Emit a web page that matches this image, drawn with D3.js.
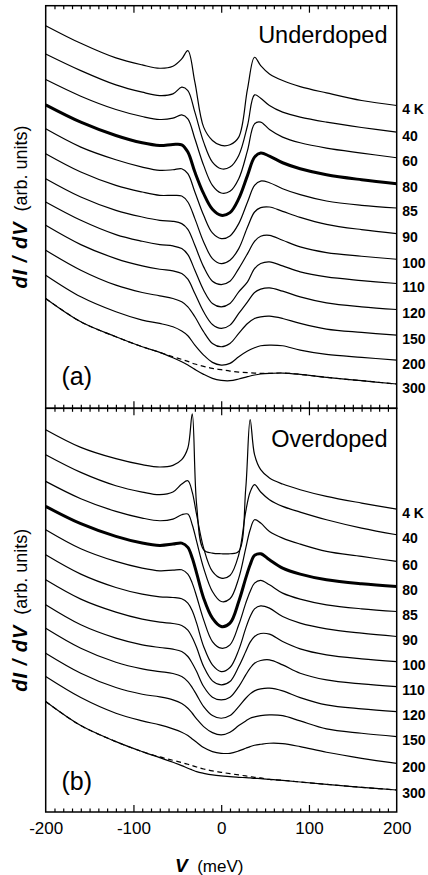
<!DOCTYPE html>
<html>
<head>
<meta charset="utf-8">
<script src="https://cdn.jsdelivr.net/npm/d3@7"></script>
<style>
  html, body { margin: 0; padding: 0; background: #fff; }
  svg { display: block; }
  text { font-family: "Liberation Sans", Arial, Helvetica, sans-serif; fill: #000; }
</style>
</head>
<body>
<div id="chart"></div>
<script>
// temperatures, top to bottom (label on the right)
var temps = ["4 K", "40", "60", "80", "85", "90", "100", "110", "120", "150", "200", "300"];
var thickIndex = 3;

// bias voltages (meV) sampled for each panel
var biasA = [-200, -160, -120, -90, -70, -55, -45, -38, -30, -20, -10, 0, 10, 20, 30, 38, 45, 55, 70, 90, 120, 160, 200];
var biasB = [-200, -160, -120, -90, -70, -55, -45, -38, -33, -28, -20, -10, 0, 10, 20, 28, 33, 38, 45, 55, 70, 90, 120, 160, 200];

// dI/dV (arb. units, offset), underdoped
var underdoped = [
  [115.0, 109.7, 105.3, 103.2, 102.2, 102.8, 105.0, 107.5, 98.0, 84.5, 80.5, 79.0, 79.2, 81.5, 96.0, 105.5, 103.0, 100.5, 98.5, 96.7, 94.8, 92.5, 91.0],
  [106.5, 101.5, 97.2, 95.0, 94.0, 94.5, 96.5, 95.5, 89.0, 80.0, 74.0, 72.0, 72.5, 76.0, 85.0, 94.2, 93.2, 91.0, 89.0, 87.5, 86.0, 84.4, 83.0],
  [98.8, 93.8, 89.8, 87.7, 86.8, 87.2, 88.2, 87.0, 81.0, 73.0, 67.0, 64.7, 65.2, 69.0, 77.5, 85.5, 86.0, 83.8, 81.5, 79.8, 78.2, 76.7, 75.3],
  [91.2, 86.0, 82.0, 79.8, 79.0, 79.3, 79.2, 77.0, 71.0, 64.5, 59.8, 58.0, 58.8, 63.0, 70.0, 75.5, 76.7, 75.8, 73.8, 72.0, 70.2, 68.7, 67.5],
  [84.0, 78.5, 74.7, 72.5, 71.5, 71.7, 72.0, 70.5, 65.0, 58.0, 52.7, 51.0, 51.8, 55.5, 62.0, 67.0, 68.3, 67.8, 66.0, 64.2, 62.3, 61.0, 60.2],
  [76.5, 71.0, 67.0, 65.0, 64.0, 64.0, 63.8, 62.0, 57.0, 50.0, 45.0, 43.5, 44.5, 48.0, 54.5, 59.0, 60.3, 60.5, 59.2, 57.4, 55.3, 53.7, 52.5],
  [69.0, 63.5, 59.5, 57.5, 56.5, 56.2, 55.5, 53.8, 49.0, 42.5, 38.2, 37.2, 38.2, 42.0, 46.5, 50.2, 51.7, 52.0, 50.5, 48.5, 46.8, 45.7, 44.8],
  [62.0, 56.5, 52.2, 50.2, 49.2, 48.8, 48.0, 46.2, 41.5, 35.5, 31.5, 30.5, 31.5, 35.0, 38.0, 42.0, 43.5, 44.0, 42.8, 41.0, 39.5, 38.4, 37.5],
  [55.0, 49.2, 45.0, 42.8, 41.8, 41.3, 40.5, 38.8, 34.5, 29.0, 25.2, 24.0, 25.0, 28.5, 32.0, 34.8, 35.8, 36.2, 35.2, 33.5, 31.7, 30.5, 29.7],
  [47.5, 41.5, 37.0, 34.8, 33.8, 33.0, 32.0, 30.5, 27.5, 23.0, 19.5, 18.5, 19.5, 22.5, 25.5, 27.0, 27.5, 27.7, 27.0, 25.5, 23.8, 22.8, 22.0],
  [40.0, 33.5, 29.0, 26.5, 25.5, 24.5, 23.2, 21.8, 19.0, 16.0, 13.8, 13.0, 13.5, 15.5, 17.2, 18.2, 18.8, 19.0, 18.8, 17.5, 16.2, 15.3, 14.5],
  [33.0, 26.0, 21.5, 18.5, 16.8, 15.2, 14.0, 13.0, 11.7, 10.2, 9.0, 8.4, 8.3, 8.8, 9.5, 10.0, 10.3, 10.5, 10.6, 10.2, 9.3, 8.3, 7.3]
];
var underdopedDashed = [33.0, 26.0, 21.5, 18.5, 16.8, 15.5, 14.7, 14.1, 13.3, 12.6, 12.0, 11.6, 11.2, 10.9, 10.7, 10.6, 10.5, 10.5, 10.6, 10.2, 9.3, 8.3, 7.3];

// dI/dV (arb. units, offset), overdoped
var overdoped = [
  [114.6, 109.3, 105.9, 104.1, 103.4, 103.9, 105.6, 109.1, 119.3, 92.1, 78.6, 77.6, 77.4, 77.4, 78.1, 97.1, 117.6, 107.1, 102.6, 100.1, 98.3, 96.6, 94.6, 92.6, 90.8],
  [107.1, 101.8, 97.8, 95.9, 95.1, 95.9, 98.3, 99.3, 95.9, 89.1, 79.1, 72.1, 70.1, 70.9, 77.1, 90.1, 95.9, 98.1, 95.9, 93.6, 91.6, 89.9, 87.6, 85.1, 83.1],
  [99.1, 93.9, 90.1, 88.1, 87.3, 87.8, 89.1, 89.3, 86.1, 81.1, 73.1, 66.1, 63.1, 63.9, 70.1, 79.1, 84.6, 87.6, 86.6, 84.1, 82.1, 80.3, 78.1, 76.6, 75.1],
  [91.6, 86.4, 82.6, 80.6, 79.9, 80.3, 80.6, 79.3, 76.1, 71.6, 64.1, 58.1, 55.6, 56.6, 63.1, 70.1, 74.1, 76.9, 77.4, 75.6, 73.1, 71.3, 69.6, 68.4, 67.6],
  [84.6, 78.9, 75.1, 73.1, 72.3, 72.5, 72.6, 71.3, 68.6, 64.6, 57.6, 51.1, 49.1, 50.1, 56.1, 62.6, 66.1, 68.6, 69.4, 68.1, 65.6, 63.8, 62.1, 60.9, 60.1],
  [77.1, 71.3, 67.3, 65.3, 64.5, 64.3, 63.9, 62.6, 60.3, 56.6, 49.6, 44.1, 42.1, 43.3, 48.6, 55.1, 58.6, 60.9, 61.8, 61.1, 58.6, 56.6, 54.9, 53.6, 52.6],
  [69.6, 63.8, 59.9, 57.8, 56.9, 56.5, 55.9, 54.5, 52.3, 49.3, 43.6, 39.3, 38.1, 39.1, 43.6, 48.1, 50.9, 52.6, 53.5, 53.3, 51.1, 48.9, 47.1, 45.9, 45.1],
  [62.1, 56.1, 52.1, 50.1, 49.3, 48.8, 48.1, 46.6, 44.6, 42.1, 37.6, 34.4, 33.6, 34.4, 37.6, 41.1, 43.1, 44.6, 45.4, 45.6, 44.1, 41.6, 39.6, 38.4, 37.6],
  [55.1, 49.1, 44.9, 42.9, 42.1, 41.5, 40.6, 39.1, 37.3, 35.1, 31.6, 28.9, 28.1, 28.9, 31.6, 34.1, 35.4, 36.3, 36.9, 37.1, 36.3, 34.3, 32.1, 30.9, 30.1],
  [47.6, 41.6, 37.3, 35.3, 34.5, 33.6, 32.5, 31.1, 29.6, 27.9, 25.6, 23.8, 23.1, 23.9, 25.9, 27.3, 28.1, 28.5, 28.9, 29.1, 28.9, 27.3, 24.9, 23.6, 22.6],
  [40.6, 34.3, 29.6, 27.3, 26.1, 24.9, 23.9, 22.9, 21.9, 20.9, 19.3, 18.1, 17.6, 17.6, 18.3, 19.1, 19.6, 20.0, 20.3, 20.6, 20.5, 19.6, 17.9, 16.1, 14.6],
  [33.1, 25.9, 21.1, 18.1, 16.3, 14.9, 13.9, 13.1, 12.6, 12.1, 11.6, 11.1, 10.8, 10.6, 10.4, 10.3, 10.2, 10.1, 10.0, 9.8, 9.5, 9.0, 8.3, 7.4, 6.6]
];
var overdopedDashed = [33.1, 25.9, 21.1, 18.1, 16.5, 15.5, 14.8, 14.3, 13.9, 13.5, 12.9, 12.3, 11.9, 11.5, 11.1, 10.8, 10.6, 10.4, 10.2, 9.8, 9.5, 9.0, 8.3, 7.4, 6.6];

var xTicks = [-200, -100, 0, 100, 200];
var majorTicks = [-100, 0, 100];
var minorTicks = d3.range(-190, 200, 10).filter(function(d) { return d % 100 != 0; });

var width = 428, height = 875;
var left = 45.7, right = 396.7;
var panels = [
  {top: 5.7, bottom: 408.3, bias: biasA, curves: underdoped, dashed: underdopedDashed, name: "Underdoped", tag: "(a)"},
  {top: 408.3, bottom: 812, bias: biasB, curves: overdoped, dashed: overdopedDashed, name: "Overdoped", tag: "(b)"}
];

var svg = d3.select("#chart").append("svg")
  .attr("width", width)
  .attr("height", height);

var x = d3.scaleLinear().domain([-200, 200]).range([left, right]);

panels.forEach(function(p, k) {
  var y = d3.scaleLinear().domain([0, 121]).range([p.bottom, p.top]);
  var g = svg.append("g");

  var line = d3.line()
    .x(function(d) { return x(d[0]); })
    .y(function(d) { return y(d[1]); })
    .curve(d3.curveCatmullRom.alpha(0.5));

  // dashed reference under the 300 K curve
  g.append("path")
    .attr("d", line(d3.zip(p.bias, p.dashed)))
    .attr("fill", "none")
    .attr("stroke", "#000")
    .attr("stroke-width", 1.2)
    .attr("stroke-dasharray", "5,3.5");

  p.curves.forEach(function(c, i) {
    g.append("path")
      .attr("d", line(d3.zip(p.bias, c)))
      .attr("fill", "none")
      .attr("stroke", "#000")
      .attr("stroke-width", i == thickIndex ? 3 : 1.2)
      .attr("stroke-linejoin", "round");

    g.append("text")
      .attr("x", right + 5.5)
      .attr("y", y(c[c.length - 1]) + 8.5)
      .attr("font-size", 14)
      .attr("font-weight", "bold")
      .text(temps[i]);
  });

  // inward ticks, top and bottom of each panel
  [[p.top, d3.axisBottom], [p.bottom, d3.axisTop]].forEach(function(t) {
    var minor = g.append("g").attr("transform", "translate(0," + t[0] + ")")
      .call(t[1](x).tickValues(minorTicks).tickSize(3.5).tickFormat(""));
    var major = g.append("g").attr("transform", "translate(0," + t[0] + ")")
      .call(t[1](x).tickValues(majorTicks).tickSize(7).tickFormat(""));
    [minor, major].forEach(function(a) {
      a.select(".domain").remove();
      a.selectAll("line").attr("stroke", "#000").attr("stroke-width", 1.2);
    });
  });

  g.append("rect")
    .attr("x", left).attr("y", p.top)
    .attr("width", right - left).attr("height", p.bottom - p.top)
    .attr("fill", "none").attr("stroke", "#000").attr("stroke-width", 1.5);

  g.append("text")
    .attr("x", 387.5)
    .attr("y", p.top + (k == 0 ? 37.5 : 38.5))
    .attr("text-anchor", "end")
    .attr("font-size", 23.5)
    .text(p.name);

  g.append("text")
    .attr("x", 61.5)
    .attr("y", p.bottom - (k == 0 ? 23 : 22))
    .attr("font-size", 25)
    .text(p.tag);

  var yl = g.append("text")
    .attr("transform", "translate(26.5," + ((p.top + p.bottom) / 2) + ") rotate(-90)")
    .attr("text-anchor", "middle")
    .attr("xml:space", "preserve");
  yl.append("tspan").attr("font-size", 20).attr("font-weight", "bold").attr("font-style", "italic")
    .attr("letter-spacing", 1).text("dI / dV");
  yl.append("tspan").attr("font-size", 18).text("  (arb. units)");
});

var xAxis = svg.append("g")
  .attr("transform", "translate(0,812)")
  .call(d3.axisBottom(x).tickValues(xTicks).tickSize(0).tickPadding(10).tickFormat(function(d) { return String(d); }));
xAxis.select(".domain").remove();
xAxis.selectAll("text")
  .attr("font-size", 17)
  .attr("font-family", "'Liberation Sans', Arial, Helvetica, sans-serif");

var xl = svg.append("text")
  .attr("x", 175)
  .attr("y", 871.5)
  .attr("xml:space", "preserve");
xl.append("tspan").attr("font-size", 19).attr("font-weight", "bold").attr("font-style", "italic").text("V");
xl.append("tspan").attr("font-size", 17).text("  (meV)");
</script>
</body>
</html>
